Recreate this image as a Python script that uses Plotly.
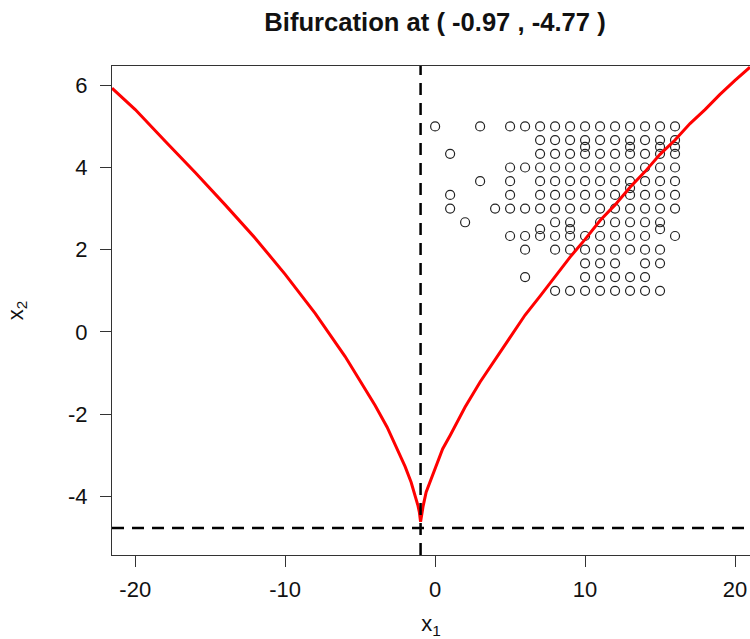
import plotly.graph_objects as go

# Bifurcation point
bif_x = -0.97
bif_y = -4.77

# Red bifurcation curve (two branches meeting at the cusp)
left_x = [-21.55, -20.0, -18.0, -16.0, -14.0, -12.0, -10.0, -8.0, -6.0, -5.0, -4.0, -3.2, -2.5, -2.0, -1.6, -1.3, -1.15, -1.05, -0.97]
left_y = [5.93, 5.41, 4.64, 3.88, 3.09, 2.28, 1.40, 0.45, -0.60, -1.18, -1.79, -2.32, -2.86, -3.28, -3.66, -4.01, -4.22, -4.39, -4.62]
right_x = [-0.97, -0.9, -0.8, -0.6, -0.3, 0.0, 0.5, 1.0, 2.0, 3.0, 4.0, 5.0, 6.0, 7.0, 8.0, 9.0, 10.0,
           11.0, 12.0, 13.0, 14.0, 15.0, 16.0, 17.0, 18.0, 19.0, 20.0, 21.0]
right_y = [-4.62, -4.41, -4.24, -3.90, -3.60, -3.32, -2.85, -2.52, -1.83, -1.22, -0.67, -0.11, 0.41, 0.87, 1.36, 1.82, 2.25,
           2.71, 3.09, 3.52, 3.90, 4.32, 4.67, 5.07, 5.41, 5.78, 6.12, 6.44]

# Open-circle points, by row (y value -> list of x values)
rows = {
    5.0:   [0, 3, 5, 6, 7, 8, 9, 10, 11, 12, 13, 14, 15, 16],
    4.667: [7, 8, 9, 10, 11, 12, 13, 14, 15, 16],
    4.5:   [10, 13, 15, 16],
    4.333: [1, 7, 8, 9, 10, 11, 12, 13, 14, 15, 16],
    4.0:   [5, 6, 7, 8, 9, 10, 11, 12, 13, 14, 15, 16],
    3.667: [3, 5, 7, 8, 9, 10, 11, 12, 13, 14, 15, 16],
    3.5:   [13],
    3.333: [1, 5, 7, 8, 9, 10, 11, 12, 13, 14, 15, 16],
    3.0:   [1, 4, 5, 6, 7, 8, 9, 10, 11, 12, 13, 14, 15, 16],
    2.667: [2, 8, 9, 11, 12, 13, 14, 15],
    2.5:   [7, 9, 15],
    2.333: [5, 6, 7, 8, 9, 10, 11, 12, 13, 14, 16],
    2.0:   [6, 8, 9, 10, 11, 12, 13, 14, 15],
    1.667: [10, 11, 12, 14, 15],
    1.333: [6, 10, 11, 12, 13, 14],
    1.0:   [8, 9, 10, 11, 12, 13, 14, 15],
}
pts_x = [x for yv, xs in rows.items() for x in xs]
pts_y = [yv for yv, xs in rows.items() for x in xs]

x_ticks = [-20, -10, 0, 10, 20]
y_ticks = [-4, -2, 0, 2, 4, 6]

FONT = "Liberation Sans, Arial, sans-serif"
AX = "#333333"

fig = go.Figure()

fig.add_trace(go.Scatter(
    x=pts_x, y=pts_y, mode="markers",
    marker=dict(symbol="circle-open", size=9, color="#222222", line=dict(width=1.2)),
    hoverinfo="skip", showlegend=False))

fig.add_trace(go.Scatter(
    x=left_x, y=left_y, mode="lines",
    line=dict(color="#ff0000", width=3),
    showlegend=False))
fig.add_trace(go.Scatter(
    x=right_x, y=right_y, mode="lines",
    line=dict(color="#ff0000", width=3),
    showlegend=False))

fig.add_vline(x=bif_x, line=dict(color="black", width=2.5, dash="12px,8px"))
fig.add_hline(y=bif_y, line=dict(color="black", width=2.5, dash="12px,8px"))

fig.update_layout(
    width=750, height=639,
    margin=dict(l=112, r=0, t=66, b=84, autoexpand=False),
    paper_bgcolor="white", plot_bgcolor="white",
    font=dict(family=FONT, size=22, color="#111111"),
    title=dict(text="<b>Bifurcation at ( -0.97 , -4.77 )</b>",
               font=dict(family=FONT, size=25.6, color="#111111"),
               xref="container", x=435 / 750, xanchor="center",
               yref="container", y=1 - 22 / 639, yanchor="middle"),
    showlegend=False,
)

fig.update_xaxes(
    range=[-21.55, 21.0], tickvals=x_ticks, ticktext=[str(v) for v in x_ticks],
    showgrid=False, zeroline=False, automargin=False,
    showline=True, mirror=True, linecolor=AX, linewidth=1.3,
    ticks="outside", ticklen=11, tickwidth=1.3, tickcolor=AX,
    ticklabelstandoff=3,
    title=dict(text="x<sub>1</sub>", font=dict(size=22), standoff=27),
)
fig.update_yaxes(
    range=[-5.43, 6.47], tickvals=y_ticks, ticktext=[str(v) for v in y_ticks],
    showgrid=False, zeroline=False, automargin=False,
    showline=True, mirror=False, linecolor=AX, linewidth=1.3,
    ticks="outside", ticklen=11, tickwidth=1.3, tickcolor=AX,
    ticklabelstandoff=8,
    title=dict(text="x<sub>2</sub>", font=dict(size=22), standoff=38),
)

fig.write_html(
    "out.html",
    config={"displayModeBar": False},
    post_script="document.body.style.margin='0px';document.body.style.overflow='hidden';",
)
